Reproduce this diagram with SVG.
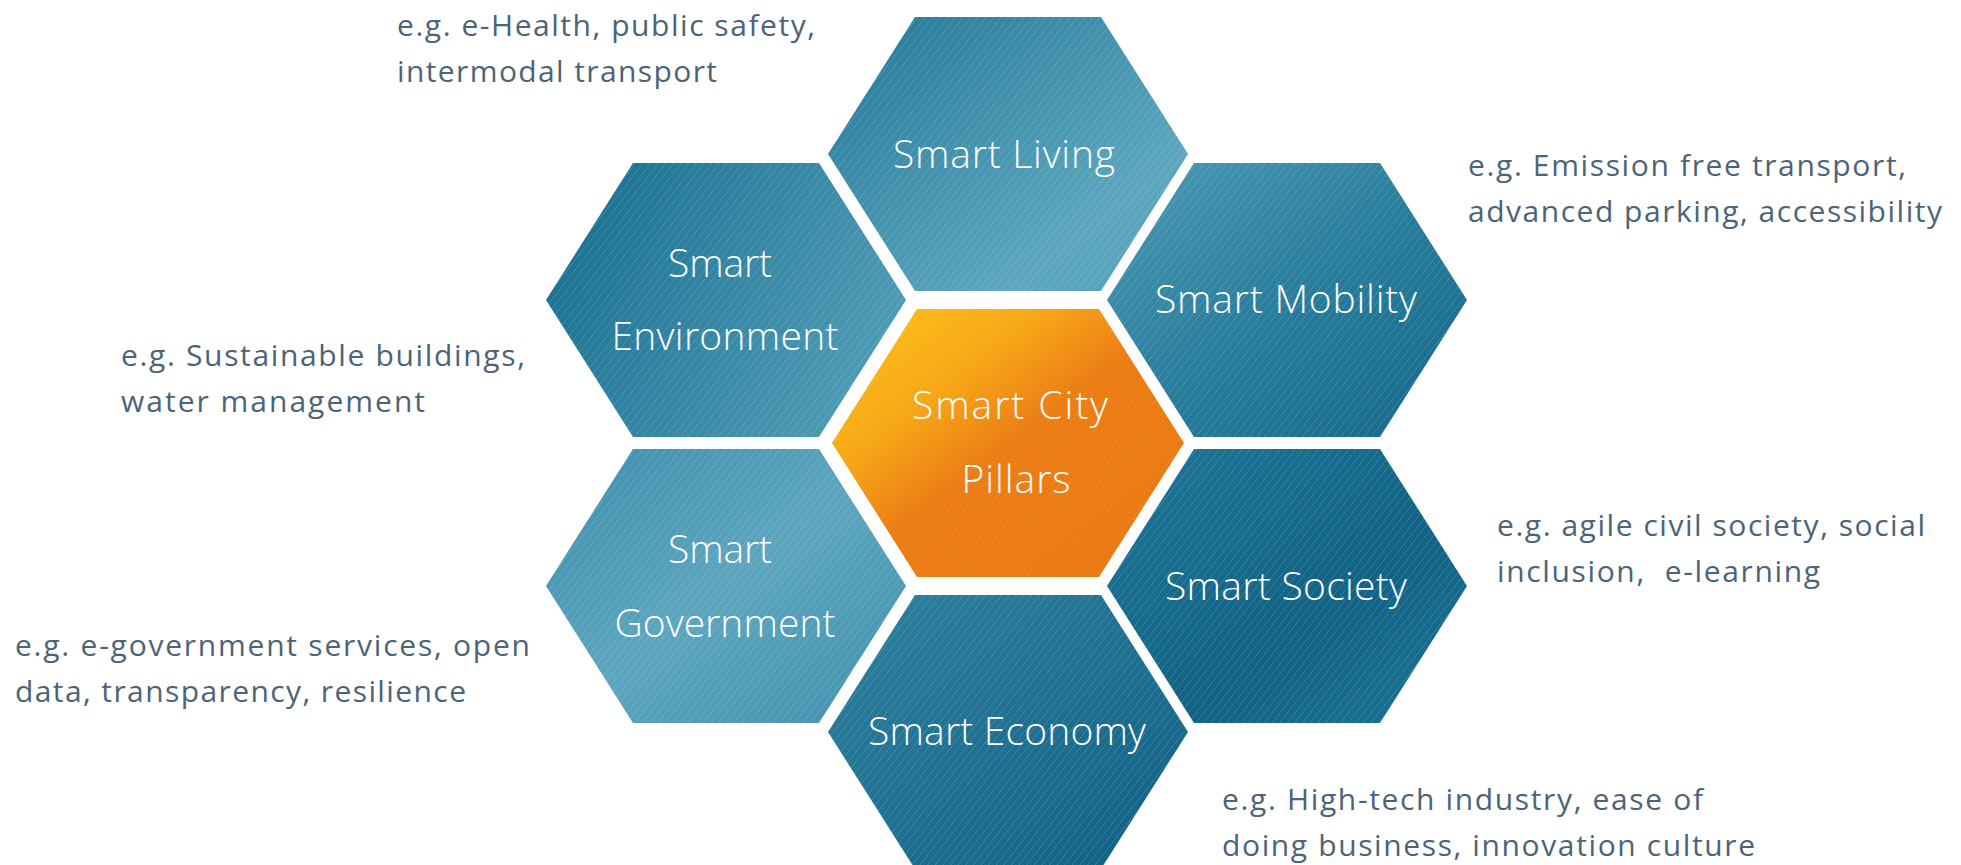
<svg xmlns="http://www.w3.org/2000/svg" width="1961" height="865" viewBox="0 0 1961 865">
<style>
.lbl{font-family:"Open Sans","Liberation Sans",sans-serif;font-weight:300;font-size:39px;fill:#ffffff;text-anchor:middle}
.note{font-family:"Open Sans","Liberation Sans",sans-serif;font-weight:400;font-size:30px;fill:#4b6478}
</style>
<defs>
<polygon id="hex" points="-180,0 -93,-137 93,-137 180,0 93,137 -93,137"/>
<pattern id="streaks" width="6" height="6" patternUnits="userSpaceOnUse" patternTransform="rotate(-52)">
<rect x="0" y="0" width="6" height="1" fill="#ffffff" fill-opacity="0.16"/>
<rect x="0" y="3" width="6" height="0.6" fill="#ffffff" fill-opacity="0.08"/>
</pattern>
<linearGradient id="gLiving" x1="0" y1="0" x2="1" y2="1"><stop offset="0" stop-color="#1f7695"/><stop offset="0.75" stop-color="#5aa5be"/><stop offset="1" stop-color="#4f9db7"/></linearGradient>
<linearGradient id="gEnv" x1="0" y1="0.3" x2="1" y2="0.7"><stop offset="0" stop-color="#176e90"/><stop offset="1" stop-color="#4e9cb6"/></linearGradient>
<linearGradient id="gMob" x1="0" y1="0" x2="1" y2="1"><stop offset="0" stop-color="#4a99b3"/><stop offset="0.5" stop-color="#257b9a"/><stop offset="1" stop-color="#116588"/></linearGradient>
<linearGradient id="gGov" x1="0" y1="0" x2="1" y2="1"><stop offset="0" stop-color="#3a8cab"/><stop offset="0.5" stop-color="#5aa4bd"/><stop offset="1" stop-color="#3d8eac"/></linearGradient>
<linearGradient id="gSoc" x1="0" y1="0" x2="1" y2="1"><stop offset="0" stop-color="#1c7495"/><stop offset="0.6" stop-color="#0d6083"/><stop offset="1" stop-color="#1a7193"/></linearGradient>
<linearGradient id="gEco" x1="0" y1="0" x2="1" y2="1"><stop offset="0" stop-color="#2b7f9d"/><stop offset="1" stop-color="#0c5d82"/></linearGradient>
<linearGradient id="gCenter" x1="0" y1="0" x2="1" y2="1"><stop offset="0" stop-color="#ffc417"/><stop offset="0.3" stop-color="#f7a613"/><stop offset="0.5" stop-color="#ec7c11"/><stop offset="1" stop-color="#e9770f"/></linearGradient>
</defs>
<rect width="1961" height="865" fill="#ffffff"/>

<g id="connectors"></g>

<g id="smart-living" transform="translate(1008,154)">
<use href="#hex" fill="url(#gLiving)"/><use href="#hex" fill="url(#streaks)"/>
<text class="lbl" x="-4" y="14" textLength="222">Smart Living</text>
</g>
<g id="smart-environment" transform="translate(726,300)">
<use href="#hex" fill="url(#gEnv)"/><use href="#hex" fill="url(#streaks)"/>
<text class="lbl" x="-6" y="-23" textLength="104">Smart</text>
<text class="lbl" x="-1" y="50" textLength="227">Environment</text>
</g>
<g id="smart-mobility" transform="translate(1287,300)">
<use href="#hex" fill="url(#gMob)"/><use href="#hex" fill="url(#streaks)"/>
<text class="lbl" x="-1" y="13" textLength="262">Smart Mobility</text>
</g>
<g id="smart-city-pillars" transform="translate(1008,443)">
<polygon points="-176,0 -91,-134 91,-134 176,0 91,134 -91,134" fill="url(#gCenter)"/>
<polygon points="-176,0 -91,-134 91,-134 176,0 91,134 -91,134" fill="url(#streaks)" opacity="0.6"/>
<text class="lbl" x="2" y="-24" textLength="196">Smart City</text>
<text class="lbl" x="8" y="50" textLength="109">Pillars</text>
</g>
<g id="smart-government" transform="translate(726,586)">
<use href="#hex" fill="url(#gGov)"/><use href="#hex" fill="url(#streaks)"/>
<text class="lbl" x="-6" y="-23" textLength="104">Smart</text>
<text class="lbl" x="-1" y="51" textLength="221">Government</text>
</g>
<g id="smart-society" transform="translate(1287,586)">
<use href="#hex" fill="url(#gSoc)"/><use href="#hex" fill="url(#streaks)"/>
<text class="lbl" x="-1" y="14" textLength="242">Smart Society</text>
</g>
<g id="smart-economy" transform="translate(1008,732)">
<use href="#hex" fill="url(#gEco)"/><use href="#hex" fill="url(#streaks)"/>
<text class="lbl" x="-1" y="13" textLength="278">Smart Economy</text>
</g>

<g id="note-living">
<text class="note" x="397" y="36" textLength="418">e.g. e-Health, public safety,</text>
<text class="note" x="397" y="82" textLength="320">intermodal transport</text>
</g>
<g id="note-mobility">
<text class="note" x="1468" y="176" textLength="438">e.g. Emission free transport,</text>
<text class="note" x="1468" y="222" textLength="474">advanced parking, accessibility</text>
</g>
<g id="note-environment">
<text class="note" x="121" y="366" textLength="404">e.g. Sustainable buildings,</text>
<text class="note" x="121" y="412" textLength="304">water management</text>
</g>
<g id="note-society">
<text class="note" x="1497" y="536" textLength="428">e.g. agile civil society, social</text>
<text class="note" x="1497" y="582" textLength="323" xml:space="preserve">inclusion,  e-learning</text>
</g>
<g id="note-government">
<text class="note" x="15" y="656" textLength="515">e.g. e-government services, open</text>
<text class="note" x="15" y="702" textLength="451">data, transparency, resilience</text>
</g>
<g id="note-economy">
<text class="note" x="1222" y="810" textLength="481">e.g. High-tech industry, ease of</text>
<text class="note" x="1222" y="856" textLength="533">doing business, innovation culture</text>
</g>
</svg>
